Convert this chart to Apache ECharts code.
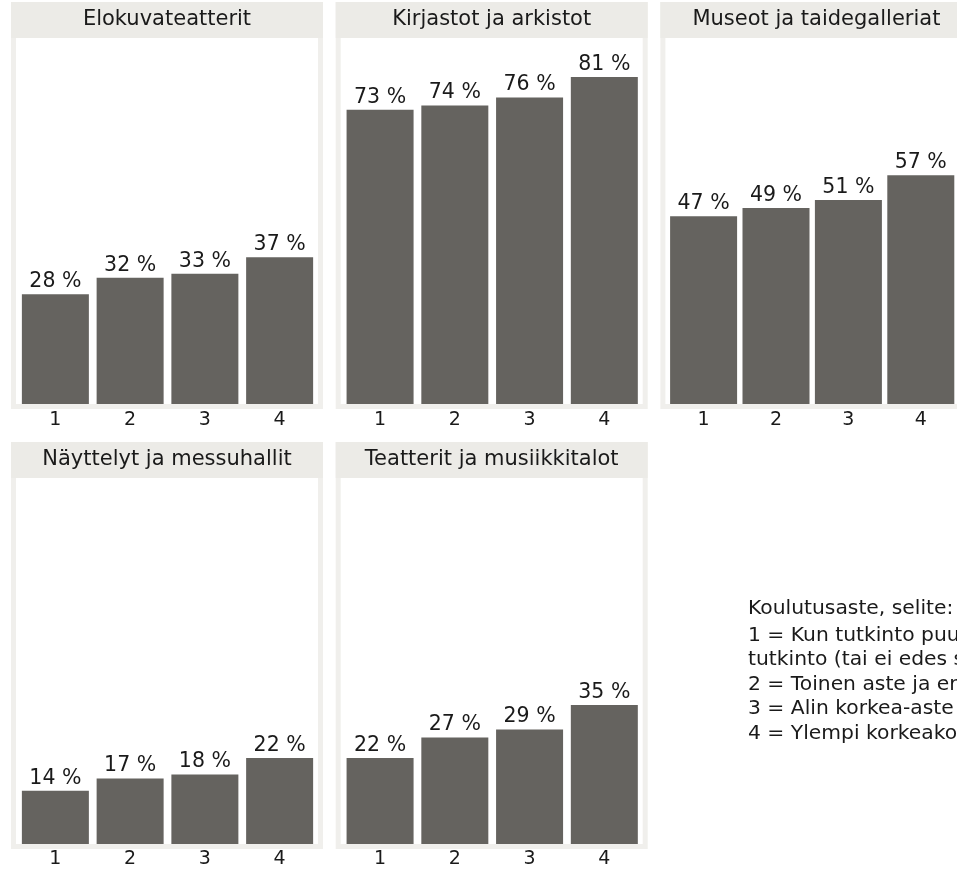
<!DOCTYPE html>
<html>
<head>
<meta charset="utf-8">
<script src="https://cdn.jsdelivr.net/npm/echarts@6/dist/echarts.min.js"></script>
<style>
html,body{margin:0;padding:0;background:#fff;}
#chart{width:957px;height:869px;}
</style>
</head>
<body>
<div id="chart"></div>
<script>
// ---- data ----
const categories = ['1', '2', '3', '4'];
const panelTitles = ['Elokuvateatterit', 'Kirjastot ja arkistot', 'Museot ja taidegalleriat', 'Näyttelyt ja messuhallit', 'Teatterit ja musiikkitalot'];
const elokuvateatterit = [28, 32, 33, 37];
const kirjastot = [73, 74, 76, 81];
const museot = [47, 49, 51, 57];
const nayttelyt = [14, 17, 18, 22];
const teatterit = [22, 27, 29, 35];
const legendLines = [
  'Koulutusaste, selite:',
  '1 = Kun tutkinto puuttuu tai perusasteen',
  'tutkinto (tai ei edes sitä)',
  '2 = Toinen aste ja erikoisammattikoulutus',
  '3 = Alin korkea-aste ja alempi korkeakoulututkinto',
  '4 = Ylempi korkeakoulututkinto'
];
const seriesData = [elokuvateatterit, kirjastot, museot, nayttelyt, teatterit];

// ---- layout ----
const FONT = 'DejaVu Sans';
const BAR = '#65635f';
const HEADER = '#ecebe7';
const FRAME = '#f0efec';
const TEXT = '#1a1a1a';
const pitchX = 324.7;
const panelW = 312;
const rowOffsets = [0, 440];
const yMax = 90;

const grids = [], xAxes = [], yAxes = [], series = [], graphics = [];
seriesData.forEach((data, i) => {
  const col = i % 3, row = Math.floor(i / 3);
  const ox = col * pitchX, oy = rowOffsets[row];
  const zeroY = 409 + oy;
  const top = zeroY - 4.1 * yMax;
  grids.push({ left: 18 + ox, width: 299, top: top, height: zeroY - top });
  xAxes.push({
    type: 'category', gridIndex: i, data: categories,
    axisLine: { show: false }, axisTick: { show: false },
    axisLabel: { margin: 2, fontSize: 19, color: TEXT, fontFamily: FONT }
  });
  yAxes.push({ type: 'value', gridIndex: i, min: 0, max: yMax, show: false, splitLine: { show: false } });
  series.push({
    type: 'bar', xAxisIndex: i, yAxisIndex: i, data: data, barWidth: 67,
    itemStyle: { color: BAR },
    label: { show: true, position: 'top', distance: 2, formatter: p => p.value + ' %', fontSize: 20.5, color: TEXT, fontFamily: FONT },
    silent: true, animation: false
  });
  const px = 11 + ox, py = 2 + oy;
  graphics.push({
    type: 'rect', z: 100, silent: true,
    shape: { x: px + 2.5, y: py + 2.5, width: panelW - 5, height: 407 - 5 },
    style: { fill: null, stroke: FRAME, lineWidth: 5 }
  });
  graphics.push({
    type: 'rect', z: 101, silent: true,
    shape: { x: px, y: py, width: panelW, height: 36 },
    style: { fill: HEADER }
  });
  graphics.push({
    type: 'text', z: 102, silent: true,
    x: px + panelW / 2, y: py + 18,
    style: { text: panelTitles[i], fontSize: 21, fontFamily: FONT, fill: TEXT, align: 'center', verticalAlign: 'middle' }
  });
});

const legendY = [609, 636, 660, 685, 709, 734];
legendLines.forEach((t, k) => {
  graphics.push({
    type: 'text', z: 102, silent: true, x: 748, y: legendY[k],
    style: { text: t, fontSize: 20.3, fontFamily: FONT, fill: TEXT, align: 'left', verticalAlign: 'middle' }
  });
});

const chart = echarts.init(document.getElementById('chart'), null, { renderer: 'canvas' });
chart.setOption({
  animation: false,
  backgroundColor: '#ffffff',
  grid: grids, xAxis: xAxes, yAxis: yAxes, series: series,
  graphic: { elements: graphics }
});
</script>
</body>
</html>
